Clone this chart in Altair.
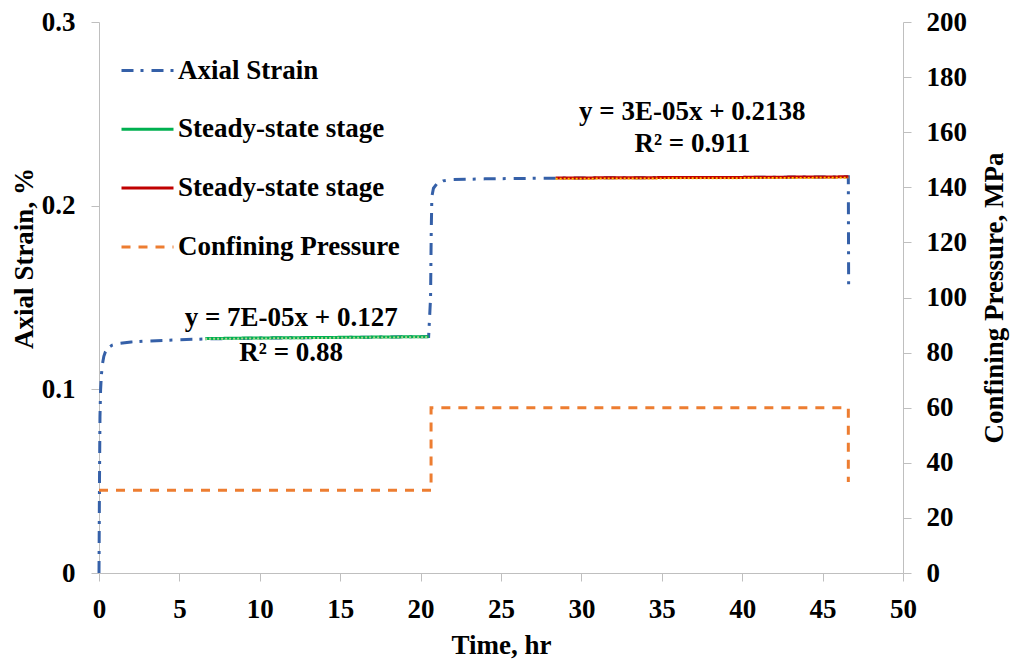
import altair as alt
import pandas as pd

FONT = "Liberation Serif"

# Axial strain record: time (hr) and strain (%)
strain_t = [0, 0.03, 0.06, 0.1, 0.15, 0.22, 0.3, 0.4, 0.55, 0.8, 1.2, 2.0, 3.0, 5.0,
            7.0, 10.0, 14.0, 18.0, 20.5, 20.62, 20.66, 20.7, 20.8, 21.0, 21.4, 22.0,
            24.0, 27.0, 30.0, 35.0, 40.0, 44.0, 46.6, 46.62]
strain_v = [0.0, 0.05, 0.085, 0.100, 0.108, 0.114, 0.118, 0.1205, 0.1225, 0.124, 0.125,
            0.1258, 0.1263, 0.1270, 0.1275, 0.1279, 0.1282, 0.1285, 0.1287, 0.150, 0.185,
            0.205, 0.2095, 0.2118, 0.2135, 0.2142, 0.2146, 0.2149, 0.2151, 0.2153, 0.2154,
            0.2156, 0.2157, 0.153]

# Steady-state stages
green_t = [6.6, 9.0, 12.0, 15.0, 18.0, 20.5]
green_v = [0.1276, 0.1279, 0.1281, 0.1283, 0.1285, 0.1287]
red_t = [28.4, 32.0, 36.0, 40.0, 44.0, 46.6]
red_v = [0.2150, 0.2152, 0.2153, 0.2154, 0.2156, 0.2157]

# Linear trend lines fitted to the steady-state stages
trend_slope = [7e-05, 3e-05]
trend_intercept = [0.127, 0.2138]
trend_range = [[6.6, 20.5], [28.4, 46.6]]
trend_colors = ["#a9d18e", "#ffc000"]

# Confining pressure (MPa)
pressure_t = [0, 20.65, 20.65, 46.6, 46.6]
pressure_v = [30, 30, 60, 60, 33]

# Trend-line equations
eq_text = ["y = 7E-05x + 0.127", "R² = 0.88", "y = 3E-05x + 0.2138", "R² = 0.911"]
eq_t = [11.95, 11.95, 36.9, 36.9]
eq_v = [0.1388, 0.1198, 0.2510, 0.2335]

series_names = ["Axial Strain", "Steady-state stage (I)", "Steady-state stage (II)",
                "Confining Pressure"]
series_colors = ["#3560a8", "#00b050", "#c00000", "#ed7d31"]
series_dashes = [[12, 7, 3, 8], [1, 0], [1, 0], [9, 8]]


def frame(t, v, name):
    return pd.DataFrame({"t": t, "v": v, "series": name, "i": range(len(t))})


left_df = pd.concat([
    frame(strain_t, strain_v, series_names[0]),
    frame(green_t, green_v, series_names[1]),
    frame(red_t, red_v, series_names[2]),
], ignore_index=True)

pressure_df = pd.DataFrame({"t": pressure_t, "p": pressure_v, "series": series_names[3],
                            "i": range(len(pressure_t))})

eq_df = pd.DataFrame({"t": eq_t, "v": eq_v, "label": eq_text})

legend_def = alt.Legend(
    title=None, orient="none", legendX=21, legendY=21, padding=0,
    symbolType="stroke", symbolSize=2704, symbolStrokeWidth=3,
    labelFont=FONT, labelFontSize=27, labelFontWeight="bold", labelColor="black",
    labelOffset=3, rowPadding=17.8, labelLimit=400,
    labelExpr="indexof(datum.label, 'Steady') == 0 ? 'Steady-state stage' : datum.label",
)

color_enc = alt.Color("series:N", scale=alt.Scale(domain=series_names, range=series_colors),
                      legend=legend_def)
dash_enc = alt.StrokeDash("series:N",
                          scale=alt.Scale(domain=series_names, range=series_dashes),
                          legend=legend_def)

x_enc = alt.X("t:Q", scale=alt.Scale(domain=[0, 50], nice=False),
              axis=alt.Axis(values=list(range(0, 51, 5)), title="Time, hr",
                            titleY=72, titleBaseline="middle", labelPadding=15))

y_left = alt.Y("v:Q", scale=alt.Scale(domain=[0, 0.3], nice=False),
               axis=alt.Axis(orient="left", values=[0, 0.1, 0.2, 0.3], format="~g",
                             title="Axial Strain, %", titleX=-75, titleY=236,
                             titleBaseline="middle", labelPadding=16))

y_right = alt.Y("p:Q", scale=alt.Scale(domain=[0, 200], nice=False),
                axis=alt.Axis(orient="right", values=list(range(0, 201, 20)),
                              title="Confining Pressure, MPa", titleAngle=270,
                              titleX=91, titleBaseline="middle", labelPadding=15))

strain_lines = alt.Chart(left_df).mark_line(strokeWidth=3).encode(
    x=x_enc, y=y_left, color=color_enc, strokeDash=dash_enc,
    detail="series:N", order="i:Q",
)

# Dotted trend lines drawn over each steady-state stage
trend_layers = []
for k in range(len(trend_slope)):
    t0, t1 = trend_range[k]
    tdf = pd.DataFrame({
        "t": [t0, t1],
        "v": [trend_intercept[k] + trend_slope[k] * t0,
              trend_intercept[k] + trend_slope[k] * t1],
    })
    trend_layers.append(
        alt.Chart(tdf).mark_line(strokeWidth=2, strokeDash=[2, 2],
                                 color=trend_colors[k]).encode(x=x_enc, y=y_left)
    )

eq_labels = alt.Chart(eq_df).mark_text(
    font=FONT, fontSize=27, fontWeight="bold", color="black", align="center",
    baseline="middle",
).encode(x=x_enc, y=y_left, text="label:N")

left = alt.layer(strain_lines, *trend_layers, eq_labels)

pressure_line = alt.Chart(pressure_df).mark_line(strokeWidth=3).encode(
    x=x_enc, y=y_right, color=color_enc, strokeDash=dash_enc, order="i:Q",
)

chart = alt.layer(left, pressure_line).resolve_scale(
    y="independent"
).properties(
    width=804, height=551,
    padding={"left": 99, "top": 22, "right": 108, "bottom": 87},
    autosize=alt.AutoSizeParams(type="none"),
    background="white",
).configure_axis(
    labelFont=FONT, labelFontSize=27, labelFontWeight="bold", labelColor="black",
    titleFont=FONT, titleFontSize=27, titleFontWeight="bold", titleColor="black",
    domainColor="#bfbfbf", tickColor="#bfbfbf", tickSize=8, grid=False,
    labelFlush=False, labelOverlap=False, labelBound=False,
).configure_view(strokeWidth=0)

chart.save("out.html", embed_options={"renderer": "svg", "actions": False})
